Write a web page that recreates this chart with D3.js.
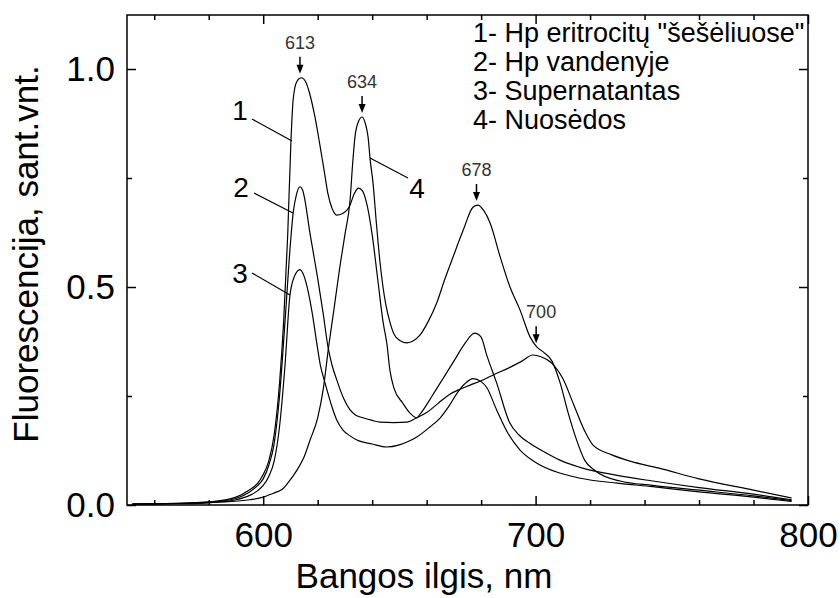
<!DOCTYPE html>
<html>
<head>
<meta charset="utf-8">
<script src="https://cdn.jsdelivr.net/npm/d3@7"></script>
<style>
  html, body { margin: 0; padding: 0; background: #fff; }
  svg { display: block; font-family: "Liberation Sans", Arial, sans-serif; }
</style>
</head>
<body>
<svg id="chart" width="840" height="598"></svg>
<script>
// ---- DATA ----
const seriesNames = ["1- Hp eritrocitų \"šešėliuose\"", "2- Hp vandenyje", "3- Supernatantas", "4- Nuosėdos"];

const curve1 = [[552,0.002],[570,0.004],[580,0.007],[590,0.018],[595,0.035],[598,0.05],[600,0.07],[602,0.1],[604,0.16],[606,0.28],[607.5,0.42],[609,0.62],[610.2,0.837],[611,0.93],[612.4,0.972],[614,0.98],[615.5,0.972],[617,0.945],[619,0.89],[620.7,0.83],[622.3,0.77],[623.7,0.716],[625.3,0.68],[627,0.665],[629,0.668],[631.7,0.685],[633.5,0.715],[635,0.727],[636.5,0.72],[638.3,0.683],[640,0.62],[642,0.52],[644,0.42],[645.4,0.37],[646.5,0.31],[648,0.268],[651.2,0.234],[654,0.21],[656.3,0.2],[658,0.212],[662,0.25],[666,0.29],[670,0.33],[674,0.37],[677.6,0.394],[680,0.385],[682,0.345],[685.7,0.28],[690.4,0.19],[694,0.16],[697.7,0.142],[704,0.119],[710,0.1],[716,0.087],[730,0.068],[743,0.055],[760,0.04],[780,0.025],[794,0.012]];

const curve2 = [[552,0.002],[570,0.004],[580,0.006],[590,0.015],[595,0.03],[598,0.045],[600,0.06],[602,0.09],[604,0.14],[606,0.25],[608,0.42],[610,0.6],[611,0.67],[612.2,0.712],[613.5,0.73],[614.5,0.722],[615.3,0.7],[617,0.63],[618.5,0.575],[620,0.52],[622,0.44],[623.8,0.362],[625.3,0.32],[627,0.287],[629.5,0.245],[631.9,0.218],[634,0.206],[636.6,0.2],[640,0.194],[642.9,0.19],[648,0.189],[652.8,0.19],[656.4,0.2],[660,0.212],[664,0.232],[668,0.252],[672,0.265],[676,0.275],[680,0.285],[685,0.3],[690,0.314],[695,0.33],[699,0.344],[702,0.34],[706,0.325],[710,0.29],[714,0.23],[718,0.17],[721,0.138],[728,0.115],[735,0.1],[745,0.085],[760,0.06],[780,0.034],[794,0.016]];

const curve3 = [[552,0.002],[570,0.003],[580,0.005],[590,0.012],[595,0.022],[598,0.033],[600,0.045],[602,0.065],[604,0.1],[606,0.18],[608,0.32],[609.8,0.48],[611.5,0.525],[613.5,0.54],[615,0.525],[616.5,0.49],[618,0.44],[619.7,0.37],[621,0.32],[622.7,0.28],[625,0.23],[627,0.195],[629.3,0.172],[632,0.158],[634.4,0.149],[640,0.14],[645.4,0.133],[650,0.138],[653,0.145],[656.4,0.156],[661.2,0.179],[665,0.2],[668,0.225],[671,0.255],[674,0.278],[677,0.29],[680,0.283],[682,0.27],[685.7,0.218],[689.8,0.165],[694.3,0.126],[700.5,0.096],[708,0.075],[716,0.062],[730,0.05],[743,0.042],[760,0.03],[780,0.018],[794,0.008]];

const curve4 = [[552,0.002],[570,0.004],[585,0.007],[595,0.012],[600,0.018],[602.5,0.024],[605,0.03],[607,0.036],[609,0.05],[612.4,0.08],[615,0.11],[617.2,0.149],[620,0.2],[622,0.264],[624,0.362],[626,0.45],[628,0.54],[630,0.62],[631.9,0.70],[632.8,0.78],[633.7,0.845],[635,0.88],[636.3,0.89],[637.5,0.875],[638.5,0.844],[639.3,0.79],[640.3,0.74],[641.5,0.65],[643,0.55],[645,0.46],[646.5,0.42],[648,0.392],[650,0.378],[652.8,0.372],[655,0.376],[657.6,0.39],[660.5,0.42],[663.8,0.465],[666.5,0.515],[669.7,0.569],[673.4,0.63],[677,0.683],[678.8,0.688],[681,0.675],[683.3,0.647],[687,0.569],[690.6,0.5],[694.3,0.447],[698,0.385],[700.5,0.362],[703,0.35],[706,0.33],[709,0.28],[712,0.21],[715,0.15],[718,0.103],[722,0.078],[731,0.055],[743,0.045],[760,0.034],[780,0.021],[794,0.01]];

const xTicksMajor = [600, 700, 800];
const xTicksMinor = [560, 580, 620, 640, 660, 680, 720, 740, 760, 780];
const yTicksMajor = [0.0, 0.5, 1.0];
const yTicksMinor = [0.25, 0.75];

const peakLabels = ["613", "634", "678", "700"];
const peakWavelengths = [613.5, 636.3, 678.3, 700.2];
const peakValues = [0.98, 0.89, 0.688, 0.362];

const xTitle = "Bangos ilgis, nm";
const yTitle = "Fluorescencija, sant.vnt.";

// ---- LAYOUT ----
const svg = d3.select("#chart");
const L = 127, R = 808, T = 15, B = 505;
const x = d3.scaleLinear().domain([550, 800]).range([L, R]);
const y = d3.scaleLinear().domain([0, 1.1239]).range([B, T]);

svg.append("rect").attr("width", 840).attr("height", 598).attr("fill", "#fff");

// curves
const line = d3.line().x(d => x(d[0])).y(d => y(d[1])).curve(d3.curveMonotoneX);
[curve1, curve2, curve3, curve4].forEach(c => {
  svg.append("path").attr("d", line(c)).attr("fill", "none")
    .attr("stroke", "#000").attr("stroke-width", 1.2).attr("stroke-linejoin", "round");
});

// axes
function styleAxis(g) {
  g.select(".domain").remove();
  g.selectAll(".tick line").attr("stroke", "#000").attr("stroke-width", 1.5);
  g.selectAll(".tick text").attr("fill", "#000").attr("font-size", 35)
    .attr("font-family", "'Liberation Sans', Arial, sans-serif");
}
svg.append("g").attr("transform", `translate(0,${B})`)
  .call(d3.axisBottom(x).tickValues(xTicksMajor).tickSize(-9).tickPadding(17).tickFormat(d3.format("d")))
  .call(styleAxis);
svg.append("g").attr("transform", `translate(0,${B})`)
  .call(d3.axisBottom(x).tickValues(xTicksMinor).tickSize(-5).tickFormat(""))
  .call(styleAxis);
svg.append("g").attr("transform", `translate(0,${T})`)
  .call(d3.axisTop(x).tickValues(xTicksMajor).tickSize(-9).tickFormat(""))
  .call(styleAxis);
svg.append("g").attr("transform", `translate(0,${T})`)
  .call(d3.axisTop(x).tickValues(xTicksMinor).tickSize(-5).tickFormat(""))
  .call(styleAxis);
svg.append("g").attr("transform", `translate(${L},0)`)
  .call(d3.axisLeft(y).tickValues(yTicksMajor).tickSize(-9).tickPadding(12).tickFormat(d3.format(".1f")))
  .call(styleAxis);
svg.append("g").attr("transform", `translate(${L},0)`)
  .call(d3.axisLeft(y).tickValues(yTicksMinor).tickSize(-5).tickFormat(""))
  .call(styleAxis);
svg.append("g").attr("transform", `translate(${R},0)`)
  .call(d3.axisRight(y).tickValues(yTicksMajor).tickSize(-9).tickFormat(""))
  .call(styleAxis);
svg.append("g").attr("transform", `translate(${R},0)`)
  .call(d3.axisRight(y).tickValues(yTicksMinor).tickSize(-5).tickFormat(""))
  .call(styleAxis);

svg.append("rect").attr("x", L).attr("y", T).attr("width", R - L).attr("height", B - T)
  .attr("fill", "none").attr("stroke", "#000").attr("stroke-width", 1.5);

// axis titles
svg.append("text").attr("x", 424).attr("y", 588).attr("text-anchor", "middle")
  .attr("font-size", 35).attr("fill", "#000").text(xTitle);
svg.append("text").attr("transform", "translate(38,254) rotate(-90)").attr("text-anchor", "middle")
  .attr("font-size", 35).attr("fill", "#000").text(yTitle);

// legend
const legend = svg.append("g");
seriesNames.forEach((s, i) => {
  legend.append("text").attr("x", 473).attr("y", 42 + i * 29)
    .attr("font-size", 27).attr("fill", "#000").text(s);
});

// peak arrows
peakLabels.forEach((t, i) => {
  const px = x(peakWavelengths[i]);
  const tip = y(peakValues[i]) - 4;
  const top = tip - 17;
  svg.append("line").attr("x1", px).attr("x2", px).attr("y1", top).attr("y2", tip - 7)
    .attr("stroke", "#000").attr("stroke-width", 1.5);
  svg.append("path").attr("d", `M${px - 3.5},${tip - 9}L${px + 3.5},${tip - 9}L${px},${tip}Z`).attr("fill", "#000");
  svg.append("text").attr("x", px + (i === 3 ? 5 : 0)).attr("y", top - 8).attr("text-anchor", "middle")
    .attr("font-size", 18).attr("fill", "#333").text(t);
});

// curve number labels with leader lines
const numLabels = [
  {t: "1", tx: 240, ty: 120, l: [252, 119, 292, 141]},
  {t: "2", tx: 241, ty: 197, l: [254, 193, 293, 213]},
  {t: "3", tx: 240, ty: 283, l: [252, 273, 290, 295]},
  {t: "4", tx: 417, ty: 198, l: [370, 158, 408, 178]}
];
numLabels.forEach(n => {
  svg.append("text").attr("x", n.tx).attr("y", n.ty).attr("text-anchor", "middle")
    .attr("font-size", 28).attr("fill", "#000").text(n.t);
  svg.append("line").attr("x1", n.l[0]).attr("y1", n.l[1]).attr("x2", n.l[2]).attr("y2", n.l[3])
    .attr("stroke", "#000").attr("stroke-width", 1.2);
});
</script>
</body>
</html>
